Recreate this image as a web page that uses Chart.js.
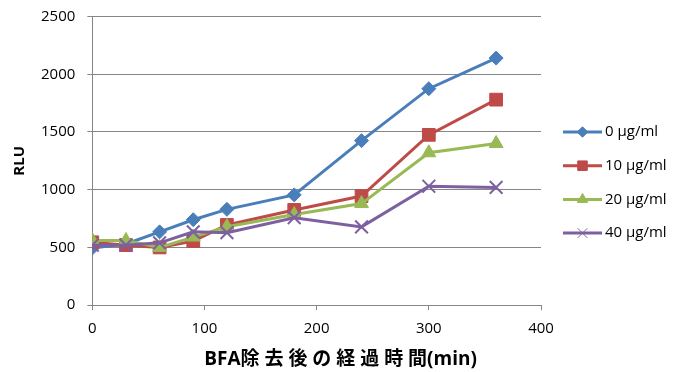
<!DOCTYPE html>
<html>
<head>
<meta charset="utf-8">
<script src="https://cdn.jsdelivr.net/npm/chart.js@4.4.1/dist/chart.umd.min.js"></script>
<style>
  body { margin: 0; background: #fff; }
  #wrap { width: 676px; height: 372px; }
</style>
</head>
<body>
<div id="wrap"><canvas id="myChart" width="676" height="372"></canvas></div>
<script>
// minutes after BFA removal
const minutes = [0, 30, 60, 90, 120, 180, 240, 300, 360]
const rlu0 = [495, 530, 635, 740, 830, 955, 1425, 1875, 2140]
const rlu10 = [545, 520, 500, 555, 695, 825, 945, 1475, 1780]
const rlu20 = [560, 560, 500, 590, 680, 785, 880, 1320, 1400]
const rlu40 = [520, 520, 540, 635, 628, 758, 678, 1030, 1020]
const seriesNames = ['0 µg/ml', '10 µg/ml', '20 µg/ml', '40 µg/ml']
const xTicks = [0, 100, 200, 300, 400]
const yTicks = [0, 500, 1000, 1500, 2000, 2500]

const colors = ['#4A7EBB', '#BE4B48', '#98B954', '#7D60A0']
const shapes = ['rectRot', 'rect', 'triangle', 'crossRot']
const radii = [7, 9, 8, 9]

const fontFam = "'Open Sans', 'Noto Sans CJK JP', sans-serif"

const allData = [rlu0, rlu10, rlu20, rlu40]
const datasets = allData.map((vals, i) => ({
    label: seriesNames[i],
    data: minutes.map((m, k) => ({x: m, y: vals[k]})),
    borderColor: colors[i],
    backgroundColor: colors[i],
    borderWidth: 3,
    pointStyle: shapes[i],
    pointRadius: radii[i],
    pointBorderWidth: shapes[i] === 'crossRot' ? 2 : 1,
    pointHoverRadius: radii[i],
    order: -i, // later series on top, like the original
    tension: 0
}))

// legend on the right, line with marker in the middle like the original
const sideLegend = {
    id: 'sideLegend',
    afterDraw(chart){
        let g = chart.ctx
        let x0 = 563, x1 = 602, top = 132, step = 33.7
        g.save()
        chart.data.datasets.forEach((ds, i) => {
            let y = top + i * step
            g.strokeStyle = colors[i]
            g.lineWidth = 3
            g.beginPath()
            g.moveTo(x0, y)
            g.lineTo(x1, y)
            g.stroke()
            g.fillStyle = colors[i]
            g.lineWidth = 1
            Chart.helpers.drawPoint(g, {
                pointStyle: shapes[i],
                radius: radii[i] * 0.75,
                rotation: 0,
                borderWidth: shapes[i] === 'crossRot' ? 1.5 : 1
            }, (x0 + x1) / 2, y)
            g.fillStyle = '#000'
            g.font = `15px ${fontFam}`
            g.textBaseline = 'middle'
            g.textAlign = 'left'
            g.fillText(ds.label, x1 + 3, y)
        })
        g.restore()
    }
}

const ctx = document.getElementById('myChart')

new Chart(ctx, {
    type: 'line',
    data: { datasets: datasets },
    options: {
        responsive: false,
        animation: false,
        layout: { padding: { left: 11, top: 4, right: 135, bottom: 1 } },
        plugins: {
            tooltip: { enabled: false },
            legend: { display: false }
        },
        scales: {
            x: {
                type: 'linear',
                min: 0,
                max: 400,
                afterBuildTicks: axis => { axis.ticks = xTicks.map(v => ({value: v})) },
                grid: { drawOnChartArea: false, drawTicks: true, tickLength: 5, color: '#868686' },
                border: { color: '#868686', width: 1 },
                ticks: { color: '#000', font: { family: fontFam, size: 15 }, padding: 10, maxRotation: 0 },
                title: {
                    display: true,
                    text: '\u3000\u3000  BFA除 去 後 の 経 過 時 間(min)',
                    color: '#000',
                    font: { family: fontFam, size: 19, weight: 'bold' },
                    padding: { top: 0, bottom: 0 }
                }
            },
            y: {
                min: 0,
                max: 2500,
                afterBuildTicks: axis => { axis.ticks = yTicks.map(v => ({value: v})) },
                grid: { color: '#868686', tickLength: 5 },
                border: { color: '#868686', width: 1 },
                ticks: { color: '#000', font: { family: fontFam, size: 15, lineHeight: 0.6 }, padding: 12, callback: v => String(v) },
                title: {
                    display: true,
                    text: 'RLU',
                    color: '#000',
                    font: { family: fontFam, size: 15, weight: 'bold' },
                    padding: { top: 0, bottom: 0 }
                }
            }
        }
    },
    plugins: [sideLegend]
})
</script>
</body>
</html>
